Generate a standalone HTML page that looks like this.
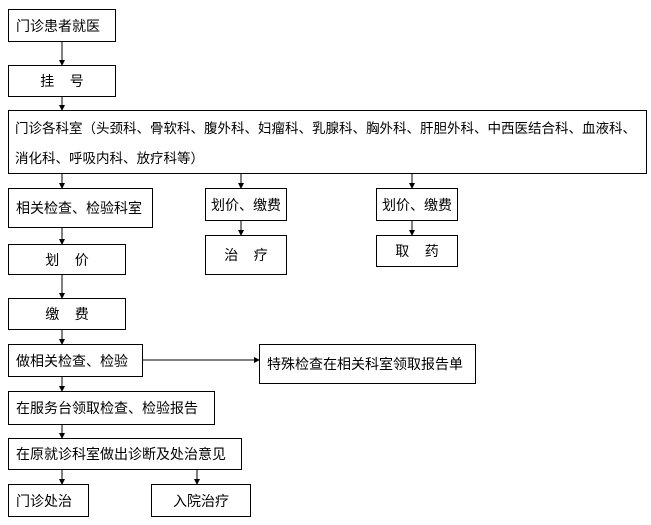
<!DOCTYPE html>
<html><head><meta charset="utf-8"><style>
body{margin:0;width:651px;height:525px;background:#fff;position:relative;overflow:hidden;font-family:"Liberation Sans","Noto Sans CJK SC",sans-serif;font-size:14px;color:#000}
.b{position:absolute;border:1px solid #000;box-sizing:border-box;display:flex;align-items:center;padding-left:7px;white-space:nowrap;line-height:26px}
.c{justify-content:center;padding-left:0}
svg{position:absolute;left:0;top:0}
</style></head><body>
<svg width="651" height="525">
<defs><marker id="a" markerWidth="6" markerHeight="6" refX="5" refY="3" orient="auto" markerUnits="userSpaceOnUse"><path d="M0,0 L6,3 L0,6z" fill="#000"/></marker></defs>
<g stroke="#000" stroke-width="1" marker-end="url(#a)">
<line x1="62" y1="41" x2="62" y2="65"/>
<line x1="62" y1="96" x2="62" y2="110"/>
<line x1="62" y1="173" x2="62" y2="188"/>
<line x1="241" y1="173" x2="241" y2="188"/>
<line x1="412" y1="173" x2="412" y2="188"/>
<line x1="241" y1="220" x2="241" y2="235"/>
<line x1="412" y1="220" x2="412" y2="235"/>
<line x1="62" y1="227" x2="62" y2="244"/>
<line x1="62" y1="274" x2="62" y2="298"/>
<line x1="62" y1="329" x2="62" y2="344"/>
<line x1="142" y1="360" x2="259" y2="360"/>
<line x1="62" y1="376" x2="62" y2="391"/>
<line x1="62" y1="424" x2="62" y2="438"/>
<line x1="62" y1="469" x2="62" y2="484"/>
<line x1="197" y1="469" x2="197" y2="484"/>
</g></svg>
<div class="b" style="left:8px;top:9px;width:108px;height:33px">门诊患者就医</div>
<div class="b c" style="left:8px;top:65px;width:108px;height:32px">挂&nbsp;&nbsp;&nbsp;&nbsp;号</div>
<div class="b" style="left:8px;top:110px;width:639px;height:64px;align-items:flex-start;white-space:normal;line-height:30px;padding-top:3px;padding-left:6px;font-size:13.5px">门诊各科室（头颈科、骨软科、腹外科、妇瘤科、乳腺科、胸外科、肝胆外科、中西医结合科、血液科、<br>消化科、呼吸内科、放疗科等）</div>
<div class="b" style="left:8px;top:188px;width:145px;height:40px">相关检查、检验科室</div>
<div class="b c" style="left:205px;top:188px;width:82px;height:33px">划价、缴费</div>
<div class="b c" style="left:205px;top:235px;width:82px;height:40px">治&nbsp;&nbsp;&nbsp;&nbsp;疗</div>
<div class="b c" style="left:376px;top:188px;width:82px;height:33px">划价、缴费</div>
<div class="b c" style="left:376px;top:235px;width:82px;height:32px">取&nbsp;&nbsp;&nbsp;&nbsp;药</div>
<div class="b c" style="left:8px;top:244px;width:118px;height:31px">划&nbsp;&nbsp;&nbsp;&nbsp;价</div>
<div class="b c" style="left:8px;top:298px;width:118px;height:32px">缴&nbsp;&nbsp;&nbsp;&nbsp;费</div>
<div class="b" style="left:8px;top:344px;width:135px;height:33px">做相关检查、检验</div>
<div class="b" style="left:259px;top:344px;width:217px;height:40px">特殊检查在相关科室领取报告单</div>
<div class="b" style="left:8px;top:391px;width:207px;height:34px">在服务台领取检查、检验报告</div>
<div class="b" style="left:8px;top:438px;width:234px;height:32px">在原就诊科室做出诊断及处治意见</div>
<div class="b" style="left:8px;top:484px;width:81px;height:33px">门诊处治</div>
<div class="b c" style="left:151px;top:484px;width:100px;height:33px">入院治疗</div>
</body></html>
